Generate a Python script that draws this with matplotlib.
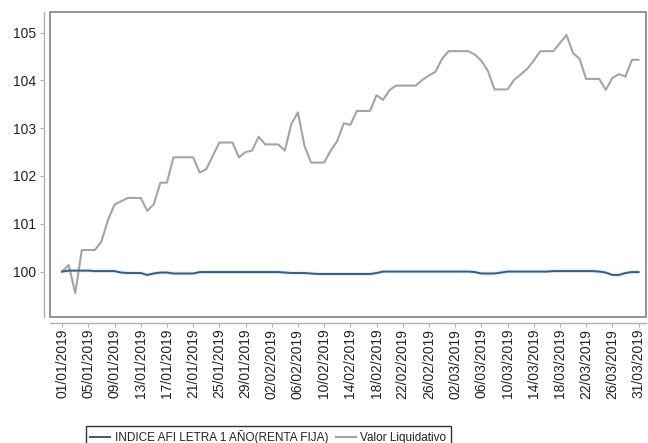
import matplotlib
matplotlib.use("Agg")
import matplotlib.pyplot as plt
from matplotlib.patches import Rectangle

# ---- data ----
tick_labels = ["01/01/2019", "05/01/2019", "09/01/2019", "13/01/2019", "17/01/2019",
               "21/01/2019", "25/01/2019", "29/01/2019", "02/02/2019", "06/02/2019",
               "10/02/2019", "14/02/2019", "18/02/2019", "22/02/2019", "26/02/2019",
               "02/03/2019", "06/03/2019", "10/03/2019", "14/03/2019", "18/03/2019",
               "22/03/2019", "26/03/2019", "31/03/2019"]

valor_liquidativo = [
    100.00, 100.14, 99.55, 100.45, 100.45, 100.45, 100.63, 101.08, 101.40, 101.47,
    101.54, 101.54, 101.54, 101.27, 101.41, 101.86, 101.86, 102.39, 102.39, 102.39,
    102.39, 102.07, 102.14, 102.42, 102.70, 102.70, 102.70, 102.39, 102.50, 102.53,
    102.82, 102.66, 102.66, 102.66, 102.53, 103.09, 103.33, 102.63, 102.28, 102.28,
    102.28, 102.53, 102.73, 103.10, 103.07, 103.36, 103.36, 103.36, 103.69, 103.59,
    103.80, 103.89, 103.89, 103.89, 103.89, 104.01, 104.10, 104.18, 104.45, 104.61,
    104.61, 104.61, 104.61, 104.54, 104.41, 104.20, 103.81, 103.81, 103.81, 104.01,
    104.12, 104.24, 104.41, 104.61, 104.61, 104.61, 104.78, 104.95, 104.57, 104.45,
    104.03, 104.03, 104.03, 103.80, 104.05, 104.13, 104.08, 104.43, 104.43]

indice_afi = [
    100.00, 100.02, 100.02, 100.02, 100.02, 100.01, 100.01, 100.01, 100.01, 99.98,
    99.97, 99.97, 99.97, 99.93, 99.96, 99.98, 99.98, 99.96, 99.96, 99.96,
    99.96, 99.99, 99.99, 99.99, 99.99, 99.99, 99.99, 99.99, 99.99, 99.99,
    99.99, 99.99, 99.99, 99.99, 99.98, 99.97, 99.97, 99.97, 99.96, 99.95,
    99.95, 99.95, 99.95, 99.95, 99.95, 99.95, 99.95, 99.95, 99.97, 100.00,
    100.00, 100.00, 100.00, 100.00, 100.00, 100.00, 100.00, 100.00, 100.00, 100.00,
    100.00, 100.00, 100.00, 99.99, 99.96, 99.96, 99.96, 99.98, 100.00, 100.00,
    100.00, 100.00, 100.00, 100.00, 100.00, 100.01, 100.01, 100.01, 100.01, 100.01,
    100.01, 100.01, 100.00, 99.98, 99.93, 99.93, 99.97, 99.99, 99.99]

series_names = ["INDICE AFI LETRA 1 AÑO(RENTA FIJA)", "Valor Liquidativo"]
y_ticks = [100, 101, 102, 103, 104, 105]

# ---- plot ----
plt.rcParams['font.family'] = ['Liberation Sans', 'DejaVu Sans']
fig = plt.figure(figsize=(6.48, 4.43), dpi=100)
ax = fig.add_axes([0.0772, 0.2844, 0.9198, 0.6886])

x = list(range(len(valor_liquidativo)))
ax.plot(x, indice_afi, color='#e3eff9', lw=3.0, solid_capstyle='round', zorder=2)
l1, = ax.plot(x, indice_afi, color='#3b5b7d', lw=1.4, zorder=4, label=series_names[0])
l2, = ax.plot(x, valor_liquidativo, color='#a4a4a4', lw=1.5, zorder=3, label=series_names[1])

ax.set_xlim(-1.85, 89.15)
ax.set_ylim(99.05, 105.43)

tick_pos = [4 * i for i in range(len(tick_labels))]
ax.set_xticks(tick_pos)
ax.set_xticklabels(tick_labels, fontsize=9.0, color='#222222')
ax.set_yticks(y_ticks)
ax.set_yticklabels([str(v) for v in y_ticks], fontsize=10.5, color='#222222')

for s in ['top', 'right']:
    ax.spines[s].set_visible(False)
for s in ['left', 'bottom']:
    ax.spines[s].set_position(('outward', 4))
    ax.spines[s].set_color('#b0b0b0')
    ax.spines[s].set_linewidth(1.0)
ax.tick_params(axis='both', colors='#b0b0b0', length=3, width=0.8, labelcolor='#222222')
ax.tick_params(axis='y', pad=3)
ax.tick_params(axis='x', pad=1.5, labelrotation=90)

ax.add_patch(Rectangle((0, 0), 1, 1, transform=ax.transAxes, fill=False,
                       edgecolor='#808080', lw=1.2, clip_on=False, zorder=5))

leg = fig.legend(handles=[l1, l2], loc='upper center', bbox_to_anchor=(0.414, 0.038),
                 ncol=2, fontsize=8.5, frameon=True, fancybox=False, edgecolor='#000000',
                 handlelength=1.7, handletextpad=0.4, columnspacing=0.6,
                 borderpad=0.35, borderaxespad=0)
leg.get_frame().set_linewidth(1.0)
for t in leg.get_texts():
    t.set_color('#222222')

fig.savefig('out.png', dpi=100)
